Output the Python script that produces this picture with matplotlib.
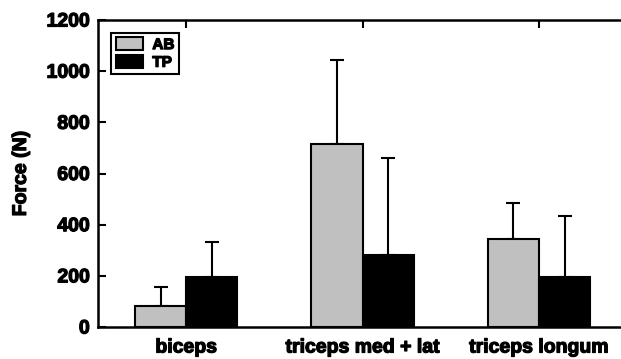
import numpy as np
import matplotlib.pyplot as plt
import matplotlib.patheffects as pe

# data
muscles = ['biceps', 'triceps med + lat', 'triceps longum']
ab_force = [83, 715, 343]
ab_err = [72, 329, 141]
tp_force = [194, 281, 197]
tp_err = [138, 380, 238]

plt.rcParams['font.family'] = ['Liberation Sans', 'DejaVu Sans']
plt.rcParams['font.weight'] = 'bold'

# heavy looking text like the original
heavy = [pe.withStroke(linewidth=0.9, foreground='black')]

fig = plt.figure(figsize=(6.21, 3.59), dpi=100)
ax = fig.add_axes([98/621, 1 - 327/359, 1 - 98/621 + 0.002, (327 - 20)/359])

x = np.arange(len(muscles))
w = 0.29
ax.bar(x - w/2, ab_force, w, color='#c0c0c0', edgecolor='black', linewidth=1.5,
       label='AB', zorder=3)
ax.bar(x + w/2, tp_force, w, color='black', edgecolor='black', linewidth=1.5,
       label='TP', zorder=3)
ax.errorbar(x - w/2, ab_force, yerr=[np.zeros(3), ab_err], fmt='none',
            ecolor='black', elinewidth=1.5, capsize=5, capthick=1.5, zorder=2)
ax.errorbar(x + w/2, tp_force, yerr=[np.zeros(3), tp_err], fmt='none',
            ecolor='black', elinewidth=1.5, capsize=5, capthick=1.5, zorder=2)

ax.set_xlim(-0.5, (621 - 98) / 176 - 0.5)
ax.set_ylim(0, 1200)
ax.set_yticks(range(0, 1201, 200))
ax.set_xticks(x)
ax.set_xticklabels(muscles, fontsize=14, fontweight='bold')
ax.tick_params(axis='y', direction='in', length=6, width=1.5, labelsize=14, pad=6)
ax.tick_params(axis='x', direction='in', length=6, width=1.5, bottom=False, top=True,
               pad=9)
ax.set_ylabel('Force (N)', fontsize=14, fontweight='bold', labelpad=12)

for s in ['left', 'top', 'bottom']:
    ax.spines[s].set_linewidth(1.8)
ax.spines['right'].set_visible(False)

leg = ax.legend(loc='upper left', bbox_to_anchor=(0.025, 0.958), borderaxespad=0,
                fontsize=11, handlelength=1.8, handleheight=0.9, labelspacing=0.2,
                handletextpad=0.6, borderpad=0.3, fancybox=False,
                framealpha=1, edgecolor='black')
leg.get_frame().set_linewidth(1.5)
for t in leg.get_texts():
    t.set_fontweight('bold')
    t.set_path_effects(heavy)

for t in ax.get_xticklabels() + ax.get_yticklabels() + [ax.yaxis.label]:
    t.set_path_effects(heavy)

fig.savefig('out.png', dpi=100)
